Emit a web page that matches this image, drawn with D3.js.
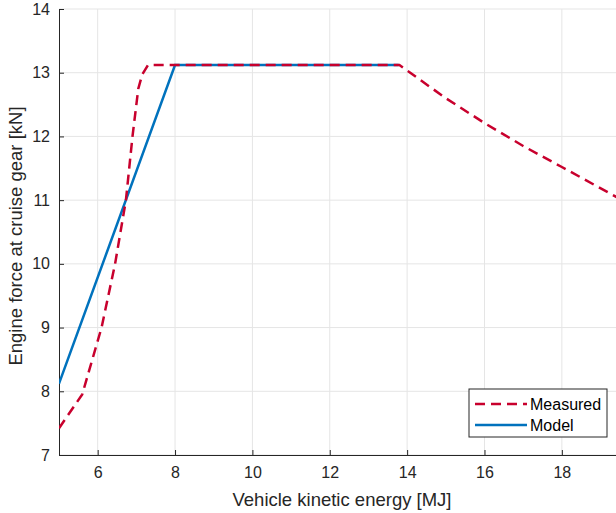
<!DOCTYPE html>
<html>
<head>
<meta charset="utf-8">
<script src="https://cdn.jsdelivr.net/npm/d3@7"></script>
<style>
body { margin: 0; background: #fff; }
svg { font-family: "Liberation Sans", Arial, sans-serif; }
</style>
</head>
<body>
<div class="chart"></div>
<script>
var width = 616;
var height = 513;

// measured curve [MJ, kN]
var measuredX = [5, 5.6, 6.1, 6.45, 6.73, 6.9, 7.05, 7.15, 7.3, 13.8, 15, 16, 17, 18, 19.5];
var measuredY = [7.42, 7.95, 9.0, 10.0, 11.0, 12.0, 12.75, 12.97, 13.12, 13.12, 12.6, 12.21, 11.85, 11.52, 11.02];

// model curve
var modelX = [5, 8, 13.78];
var modelY = [8.12, 13.12, 13.12];

var xTicks = [6, 8, 10, 12, 14, 16, 18];
var yTicks = [7, 8, 9, 10, 11, 12, 13, 14];

var margin = { left: 59, right: 0, top: 9, bottom: 58 };

var x = d3.scaleLinear().domain([5, 19.4]).range([margin.left, width]);
var y = d3.scaleLinear().domain([7, 14]).range([height - margin.bottom, margin.top]);

var svg = d3.select(".chart")
	.append("svg")
	.attr("width", width)
	.attr("height", height);

svg.append("defs").append("clipPath")
	.attr("id", "plotclip")
	.append("rect")
	.attr("x", margin.left)
	.attr("y", margin.top - 2)
	.attr("width", width - margin.left)
	.attr("height", height - margin.bottom - margin.top + 2);

// grid
svg.append("g").selectAll("line.gx")
	.data(xTicks)
	.enter()
	.append("line")
	.attr("x1", function(d) { return x(d); })
	.attr("x2", function(d) { return x(d); })
	.attr("y1", y(7))
	.attr("y2", y(14))
	.attr("stroke", "#e5e5e5")
	.attr("stroke-width", 1);

svg.append("g").selectAll("line.gy")
	.data(yTicks)
	.enter()
	.append("line")
	.attr("x1", margin.left)
	.attr("x2", width)
	.attr("y1", function(d) { return y(d); })
	.attr("y2", function(d) { return y(d); })
	.attr("stroke", "#e5e5e5")
	.attr("stroke-width", 1);

// axes, ticks pointing inward
var xAxis = svg.append("g")
	.attr("transform", "translate(0," + y(7) + ")")
	.call(d3.axisBottom(x).tickValues([5].concat(xTicks)).tickSize(-5).tickPadding(12)
		.tickFormat(function(d) { return d === 5 ? "" : d; }));

var yAxis = svg.append("g")
	.attr("transform", "translate(" + margin.left + ",0)")
	.call(d3.axisLeft(y).tickValues(yTicks).tickSize(-5).tickPadding(9)
		.tickFormat(d3.format("d")));

[xAxis, yAxis].forEach(function(a) {
	a.select(".domain").attr("stroke", "#262626").attr("stroke-width", 1);
	a.selectAll(".tick line").attr("stroke", "#262626");
	a.selectAll(".tick text")
		.attr("fill", "#262626")
		.style("font-size", "16px")
		.style("font-family", "Liberation Sans, Arial, sans-serif");
});

// lines
var line = d3.line()
	.x(function(d) { return x(d[0]); })
	.y(function(d) { return y(d[1]); });

var measured = measuredX.map(function(v, i) { return [v, measuredY[i]]; });
var model = modelX.map(function(v, i) { return [v, modelY[i]]; });

var plot = svg.append("g").attr("clip-path", "url(#plotclip)");

plot.append("path")
	.datum(model)
	.attr("d", line)
	.attr("fill", "none")
	.attr("stroke", "#0072bd")
	.attr("stroke-width", 2.5);

plot.append("path")
	.datum(measured)
	.attr("d", line)
	.attr("fill", "none")
	.attr("stroke", "#c8002d")
	.attr("stroke-width", 2.5)
	.attr("stroke-dasharray", "10,6");

// axis labels
svg.append("text")
	.attr("x", 342)
	.attr("y", 506)
	.attr("text-anchor", "middle")
	.attr("fill", "#262626")
	.style("font-size", "18.5px")
	.text("Vehicle kinetic energy [MJ]");

svg.append("text")
	.attr("transform", "translate(22,236) rotate(-90)")
	.attr("text-anchor", "middle")
	.attr("fill", "#262626")
	.style("font-size", "18.5px")
	.text("Engine force at cruise gear [kN]");

// legend
var legend = svg.append("g").attr("transform", "translate(469,389)");
legend.append("rect")
	.attr("width", 138)
	.attr("height", 48)
	.attr("fill", "#fff")
	.attr("stroke", "#262626")
	.attr("stroke-width", 1);

var legendItems = [
	{ name: "Measured", color: "#c8002d", dash: "10,6" },
	{ name: "Model", color: "#0072bd", dash: null }
];

legendItems.forEach(function(d, i) {
	legend.append("line")
		.attr("x1", 6)
		.attr("x2", 58)
		.attr("y1", 15 + i * 21)
		.attr("y2", 15 + i * 21)
		.attr("stroke", d.color)
		.attr("stroke-width", 2.5)
		.attr("stroke-dasharray", d.dash);
	legend.append("text")
		.attr("x", 61)
		.attr("y", 21 + i * 21)
		.attr("fill", "#000")
		.style("font-size", "16px")
		.text(d.name);
});
</script>
</body>
</html>
